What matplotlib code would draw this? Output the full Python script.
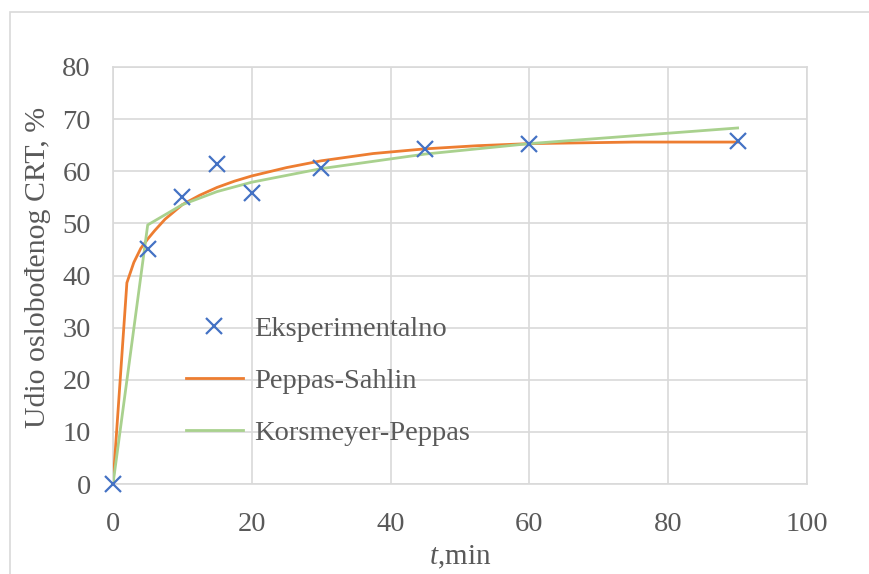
import matplotlib
matplotlib.use("Agg")
import matplotlib.pyplot as plt
from matplotlib.patches import Rectangle

plt.rcParams['font.family'] = ['Liberation Serif', 'DejaVu Serif']
plt.rcParams['mathtext.fontset'] = 'custom'
plt.rcParams['mathtext.rm'] = 'Liberation Serif'
plt.rcParams['mathtext.it'] = 'Liberation Serif:italic'

# Data
t_exp = [0, 5, 10, 15, 20, 30, 45, 60, 90]
y_exp = [0, 45.1, 55.1, 61.3, 55.9, 60.6, 64.3, 65.2, 65.8]

t_ps = [0, 2, 3, 4, 5, 6, 7.5, 10, 12.5, 15, 17.5, 20, 25, 30, 37.5, 45, 52.5, 60, 75, 90]
y_ps = [0, 38.6, 42.5, 45.2, 47.0, 48.6, 50.8, 53.6, 55.4, 56.9, 58.1, 59.1, 60.7, 62.0, 63.4, 64.3, 64.9, 65.3, 65.6, 65.6]

t_kp = [0, 5, 10, 15, 20, 30, 45, 60, 90]
y_kp = [0, 49.7, 53.6, 56.1, 57.9, 60.5, 63.3, 65.3, 68.3]

labels = ['Eksperimentalno', 'Peppas-Sahlin', 'Korsmeyer-Peppas']
xticks = [0, 20, 40, 60, 80, 100]
yticks = [0, 10, 20, 30, 40, 50, 60, 70, 80]

text_color = '#595959'
grid_color = '#d9d9d9'

fig = plt.figure(figsize=(8.7, 5.74), dpi=100)
ax = fig.add_axes([113/870, 1 - 484/574, (807-113)/870, (484-67)/574])

ax.plot(t_exp, y_exp, linestyle='none', marker='x', markersize=12,
        markeredgewidth=1.6, color='#4472c4', label=labels[0], zorder=5,
        clip_on=False)
ax.plot(t_ps, y_ps, color='#ed7d31', lw=2.0, label=labels[1], zorder=3,
        solid_joinstyle='round')
ax.plot(t_kp, y_kp, color='#a9d18e', lw=2.0, label=labels[2], zorder=4)

ax.set_xlim(0, 100)
ax.set_ylim(0, 80)
ax.set_xticks(xticks)
ax.set_yticks(yticks)
ax.grid(True, color=grid_color, lw=1.2)
ax.set_axisbelow(True)
for s in ax.spines.values():
    s.set_color(grid_color)
    s.set_linewidth(1.2)
ax.tick_params(length=0, labelsize=20.5, labelcolor=text_color)
ax.tick_params(axis='x', pad=20)
ax.tick_params(axis='y', pad=16)

ax.set_xlabel(r'$\mathit{t}$,min', fontsize=21, color=text_color, labelpad=5)
ax.set_ylabel('Udio oslobođenog CRT, %', fontsize=21.5, color=text_color,
              labelpad=8, y=0.52)

leg = ax.legend(loc='center left', bbox_to_anchor=(0.105, 0.247), frameon=False,
                fontsize=20.5, handlelength=2.0, handletextpad=0.4,
                labelspacing=0.9, borderpad=0, borderaxespad=0)
for txt in leg.get_texts():
    txt.set_color(text_color)

fig.patches.append(Rectangle((10/870, -0.2), 1.2, 1 - 12/574 + 0.2,
                             transform=fig.transFigure, fill=False,
                             edgecolor=grid_color, lw=1.2))

fig.savefig('out.png', dpi=100)
